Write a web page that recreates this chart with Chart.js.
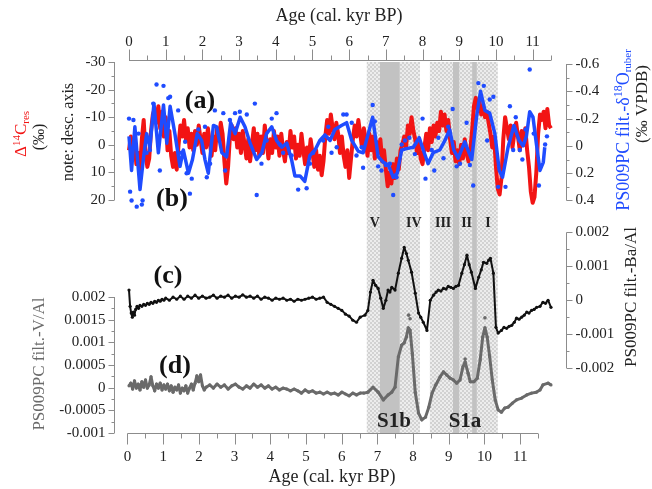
<!DOCTYPE html>
<html>
<head>
<meta charset="utf-8">
<script src="https://cdn.jsdelivr.net/npm/chart.js@4.4.0/dist/chart.umd.min.js"></script>
<style>
  html, body { margin: 0; padding: 0; background: #fff; }
  #wrap { width: 652px; height: 489px; }
</style>
</head>
<body>
<div id="wrap"><canvas id="chart" width="652" height="489"></canvas></div>
<script>
// ---- data: [age (cal. kyr BP), value] ----
const deltaC14 = [
  [0.00,2],[0.05,-3],[0.10,4],[0.15,-1],[0.20,7],[0.25,3],[0.30,9],[0.35,-2],[0.40,-9],[0.45,3],
  [0.50,8],[0.55,5],[0.60,-5],[0.65,-11],[0.70,-13],[0.75,-8],[0.80,-14],[0.85,-6],[0.90,-12],[0.95,-3],
  [1.00,-10],[1.05,2],[1.10,-5],[1.15,4],[1.20,8],[1.25,3],[1.30,9],[1.35,0],[1.40,-7],[1.45,-3],
  [1.50,-9],[1.55,-2],[1.60,-6],[1.65,1],[1.70,-4],[1.75,2],[1.80,-5],[1.85,0],[1.90,-7],[1.95,-2],
  [2.00,3],[2.05,-4],[2.10,1],[2.15,-6],[2.20,-1],[2.25,4],[2.30,-3],[2.35,2],[2.40,-6],[2.45,-2],
  [2.50,-8],[2.55,-4],[2.60,6],[2.65,14],[2.70,8],[2.75,-3],[2.80,-7],[2.85,-2],[2.90,-6],[2.95,1],
  [3.00,-4],[3.05,3],[3.10,-5],[3.15,0],[3.20,5],[3.25,-2],[3.30,6],[3.35,0],[3.40,-6],[3.45,2],
  [3.50,-4],[3.55,4],[3.60,-3],[3.65,3],[3.70,-7],[3.75,-1],[3.80,5],[3.85,-2],[3.90,3],[3.95,-5],
  [4.00,1],[4.05,-3],[4.10,4],[4.15,-4],[4.20,2],[4.25,6],[4.30,-1],[4.35,3],[4.40,-5],[4.45,1],
  [4.50,-3],[4.55,5],[4.60,0],[4.65,4],[4.70,-4],[4.75,2],[4.80,7],[4.85,1],[4.90,5],[4.95,-2],
  [5.00,3],[5.05,8],[5.10,2],[5.15,9],[5.20,4],[5.25,11],[5.30,6],[5.35,-3],[5.40,-9],[5.45,-4],
  [5.50,-11],[5.55,-6],[5.60,-2],[5.65,-8],[5.70,-4],[5.75,3],[5.80,-3],[5.85,4],[5.90,8],[5.95,2],
  [6.00,12],[6.05,5],[6.10,-2],[6.15,-7],[6.20,-3],[6.25,-9],[6.30,-4],[6.35,1],[6.40,-6],[6.45,-2],
  [6.50,4],[6.55,-4],[6.60,2],[6.65,-3],[6.70,5],[6.75,-1],[6.80,3],[6.85,-2],[6.90,6],[6.95,2],
  [7.00,9],[7.05,15],[7.10,10],[7.15,14],[7.20,7],[7.25,12],[7.30,5],[7.35,9],[7.40,2],[7.45,0],
  [7.50,-3],[7.55,1],[7.60,-7],[7.65,-4],[7.70,-10],[7.75,-5],[7.80,-2],[7.85,3],[7.90,-1],[7.95,5],
  [8.00,7],[8.05,1],[8.10,-4],[8.15,2],[8.20,-6],[8.25,-1],[8.30,-7],[8.35,-3],[8.40,-8],[8.45,-5],
  [8.50,-12],[8.55,-7],[8.60,-11],[8.65,-5],[8.70,-9],[8.75,-2],[8.80,3],[8.85,-1],[8.90,6],[8.95,2],
  [9.00,7],[9.05,0],[9.10,5],[9.15,-2],[9.20,3],[9.25,6],[9.30,2],[9.35,-5],[9.40,-14],[9.45,-17],
  [9.50,-13],[9.55,-16],[9.60,-11],[9.65,-14],[9.70,-10],[9.75,-12],[9.80,-8],[9.85,-4],[9.90,1],[9.95,-3],
  [10.00,8],[10.05,16],[10.10,18],[10.15,12],[10.20,-2],[10.25,-10],[10.30,-6],[10.35,-2],[10.40,-7],[10.45,1],
  [10.50,-4],[10.55,-8],[10.60,-3],[10.65,2],[10.70,-5],[10.75,0],[10.80,-6],[10.85,2],[10.90,8],[10.95,17],
  [11.00,21],[11.05,19],[11.10,10],[11.15,-4],[11.20,-11],[11.25,-9],[11.30,-12],[11.35,-6],[11.40,-13],[11.45,-7],
  [11.50,-6]
];

const d18OFilt = [
  [0.00,-0.07],[0.07,0.18],[0.16,-0.14],[0.30,0.32],[0.39,0.10],[0.48,-0.09],[0.57,0.01],[0.68,-0.31],
  [0.80,0.05],[0.94,-0.30],[1.03,-0.02],[1.12,-0.29],[1.25,-0.09],[1.39,0.15],[1.48,0.03],[1.62,0.20],
  [1.73,0.10],[1.86,-0.09],[1.98,-0.04],[2.07,0.10],[2.16,0.20],[2.30,-0.15],[2.39,-0.14],[2.53,0.05],
  [2.66,0.08],[2.77,-0.17],[2.89,-0.09],[3.03,-0.21],[3.16,-0.14],[3.30,-0.02],[3.48,0.10],[3.62,0.05],
  [3.75,-0.09],[3.89,-0.14],[4.02,-0.04],[4.16,0.01],[4.30,-0.02],[4.43,0.10],[4.52,0.22],[4.66,0.22],
  [4.79,0.26],[4.93,0.07],[5.07,0.03],[5.20,-0.04],[5.34,-0.08],[5.48,-0.04],[5.61,-0.12],[5.79,-0.15],
  [5.93,-0.17],[6.07,-0.04],[6.25,0.04],[6.38,0.05],[6.52,-0.09],[6.64,-0.21],[6.79,0.08],[6.93,0.12],
  [7.07,0.14],[7.20,0.23],[7.31,0.20],[7.43,0.03],[7.56,0.02],[7.75,0.01],[7.91,-0.06],[8.02,0.03],
  [8.15,0.13],[8.29,0.05],[8.47,0.03],[8.61,-0.04],[8.74,-0.12],[8.85,0.03],[8.97,0.09],[9.15,-0.03],
  [9.34,0.10],[9.47,-0.21],[9.58,-0.40],[9.70,-0.26],[9.83,-0.24],[9.97,-0.09],[10.09,0.18],[10.18,0.23],
  [10.33,0.01],[10.49,-0.15],[10.63,-0.04],[10.74,0.00],[10.83,-0.07],[10.92,-0.25],[11.01,-0.21],[11.10,-0.02],
  [11.20,0.18],[11.29,0.12],[11.33,0.01]
];

const d18ORaw = [
  [0.00,-0.20],[0.03,0.335],[0.07,0.40],[0.12,-0.19],[0.21,0.445],[0.26,-0.09],[0.35,0.43],[0.37,0.40],
  [0.48,0.05],[0.57,0.03],[0.66,-0.31],[0.75,-0.45],[0.84,0.18],[0.94,-0.44],[1.07,-0.35],[1.12,-0.36],
  [1.34,-0.26],[1.43,0.05],[1.53,-0.03],[1.57,0.20],[1.66,0.35],[1.71,0.24],[1.89,-0.12],[2.07,-0.14],
  [2.12,0.23],[2.21,0.13],[2.34,-0.26],[2.57,-0.24],[2.62,0.18],[2.75,-0.19],[2.89,-0.24],[3.02,-0.25],
  [3.21,-0.23],[3.43,-0.31],[3.48,0.36],[3.61,0.13],[3.75,-0.04],[3.89,-0.20],[4.02,-0.24],[4.11,-0.01],
  [4.20,0.05],[4.43,0.07],[4.61,0.32],[4.84,0.31],[4.93,0.13],[5.02,0.05],[5.29,-0.04],[5.43,-0.14],
  [5.52,0.05],[5.66,0.01],[5.84,-0.23],[5.93,-0.23],[6.07,-0.17],[6.20,0.07],[6.34,0.01],[6.38,0.16],
  [6.64,-0.30],[6.70,-0.18],[6.79,0.15],[6.88,0.18],[7.00,0.14],[7.11,0.13],[7.20,0.36],[7.29,0.23],
  [7.43,-0.01],[7.52,-0.04],[7.64,-0.06],[7.79,0.06],[8.00,-0.20],[8.08,0.24],[8.25,0.03],[8.32,0.18],
  [8.43,-0.06],[8.57,0.09],[8.70,-0.14],[8.82,-0.27],[8.93,0.15],[9.02,0.13],[9.20,-0.17],[9.29,0.14],
  [9.38,0.29],[9.52,-0.46],[9.67,-0.44],[9.76,-0.04],[9.83,-0.34],[9.93,-0.36],[10.06,0.30],[10.26,0.30],
  [10.38,-0.29],[10.47,0.03],[10.54,-0.21],[10.65,0.03],[10.72,0.10],[10.81,-0.12],[10.92,-0.56],[11.03,-0.09],
  [11.17,0.29],[11.34,-0.01],[11.39,-0.07]
];

const baAl = [
  [0.00,0.0003],[0.03,-0.00018],[0.06,-0.00038],[0.09,-0.0005],[0.12,-0.00035],[0.15,-0.00044],[0.18,-0.00027],
  [0.22,-0.00018],[0.26,-0.00024],[0.30,-0.00015],[0.35,-0.00018],[0.40,-0.00012],[0.45,-0.00015],[0.50,-0.00009],
  [0.55,-0.00012],[0.60,-0.00006],[0.65,-0.00009],[0.70,-0.00003],[0.75,-0.00006],[0.80,0],[0.85,-0.00003],
  [0.90,0.00003],[0.95,0],[1.0,0.00006],[1.1,0],[1.2,0.00009],[1.3,0.00003],[1.4,0.00012],[1.5,0.00003],
  [1.6,0.00012],[1.7,0.00006],[1.8,0.00015],[1.9,0.00006],[2.0,0.00012],[2.1,0.00006],[2.2,0.00009],
  [2.3,0.00015],[2.4,0.00006],[2.5,0.00012],[2.6,0.00009],[2.7,0.00015],[2.8,0.00006],[2.9,0.00012],
  [3.0,0.00009],[3.1,0.00016],[3.2,0.00009],[3.3,0.00012],[3.4,0.00006],[3.5,0.00012],[3.6,0.00003],
  [3.7,0.00009],[3.8,0.00006],[3.9,0],[4.0,0.00006],[4.1,0.00003],[4.2,0.00006],[4.3,0],[4.4,0.00003],
  [4.5,-0.00003],[4.6,0.00003],[4.7,0],[4.8,0.00003],[4.9,0.00006],[5.0,0.00009],[5.1,0.00003],[5.2,0.00006],
  [5.3,0.00009],[5.4,-0.00006],[5.5,-0.00012],[5.6,-0.00018],[5.7,-0.00024],[5.8,-0.0003],[5.9,-0.00041],
  [6.0,-0.00047],[6.1,-0.00059],[6.2,-0.00065],[6.3,-0.0005],[6.43,-0.00044],[6.51,-0.0003],[6.58,0.00024],
  [6.65,0.00059],[6.72,0.00044],[6.79,0.00035],[6.86,0.00006],[6.93,-0.00024],[7.0,0],[7.06,0.0003],
  [7.11,0.00024],[7.16,0.00038],[7.25,0.0003],[7.34,0.0008],[7.43,0.00124],[7.5,0.00156],[7.56,0.00138],
  [7.61,0.00118],[7.7,0.00083],[7.8,0.00021],[7.89,-0.00038],[7.95,-0.0005],[8.02,-0.00065],[8.12,-0.00089],
  [8.21,0],[8.3,0.00015],[8.37,0.00024],[8.43,0.0003],[8.5,0.00027],[8.57,0.00035],[8.64,0.00033],
  [8.7,0.00041],[8.77,0.00038],[8.84,0.00035],[8.91,0.00041],[8.98,0.00044],[9.07,0.0008],[9.14,0.00105],
  [9.21,0.00133],[9.27,0.00105],[9.33,0.00083],[9.44,0.00035],[9.53,0.00068],[9.6,0.0009],[9.66,0.00112],
  [9.75,0.00109],[9.8,0.00118],[9.85,0.00124],[9.93,0.0008],[10.0,-0.0008],[10.06,-0.00097],[10.15,-0.00089],
  [10.22,-0.0008],[10.29,-0.00083],[10.36,-0.00077],[10.43,-0.00074],[10.5,-0.00065],[10.56,-0.00053],
  [10.63,-0.00056],[10.7,-0.0005],[10.77,-0.00044],[10.84,-0.00035],[10.9,-0.00038],[10.97,-0.0003],
  [11.04,-0.00027],[11.11,-0.00021],[11.2,-0.00018],[11.28,-0.00006],[11.35,-0.00009],[11.42,0],[11.5,-0.00021]
];

const vAl = [
  [0.00,0.00004],[0.05,0.0001],[0.10,-0.00003],[0.15,0.00015],[0.20,-0.00001],[0.25,0.00008],[0.30,-0.00005],
  [0.35,0.00013],[0.40,0.00001],[0.45,0.00017],[0.50,-0.00001],[0.55,0.00006],[0.60,0.00024],[0.65,0.00004],
  [0.70,-0.00007],[0.75,0.00008],[0.80,-0.00001],[0.85,0.0001],[0.90,-0.00005],[0.95,0.00006],[1.00,-0.00003],
  [1.05,0.00008],[1.10,-0.00007],[1.15,0.00004],[1.20,-0.0001],[1.25,0.00001],[1.30,-0.00005],[1.35,0.00006],
  [1.40,-0.00012],[1.45,-0.00001],[1.50,-0.00007],[1.55,0.00004],[1.60,-0.00012],[1.65,-0.00001],[1.70,0.00008],
  [1.75,-0.00005],[1.80,0.0001],[1.85,0.00026],[1.90,0.00013],[1.95,0.00028],[2.00,0.00004],[2.05,-0.00005],
  [2.10,0.00001],[2.20,0.00006],[2.30,-0.00001],[2.40,0.00008],[2.50,0.00001],[2.60,0.00006],[2.70,-0.00003],
  [2.80,0.00004],[2.90,0.00008],[3.00,0.00001],[3.10,-0.00003],[3.20,0.00004],[3.30,-0.00001],[3.40,0.00008],
  [3.50,0.00001],[3.60,0.00006],[3.70,-0.00001],[3.80,0.00004],[3.90,-0.00003],[4.00,0.00001],[4.10,-0.00005],
  [4.20,-0.00001],[4.30,-0.00003],[4.40,-0.00007],[4.50,-0.00003],[4.60,-0.00007],[4.70,-0.00012],[4.80,-0.00005],
  [4.90,-0.0001],[5.00,-0.00007],[5.10,-0.00012],[5.20,-0.0001],[5.30,-0.00014],[5.40,-0.0001],[5.50,-0.00014],
  [5.60,-0.00012],[5.70,-0.00016],[5.80,-0.0001],[5.90,-0.00014],[6.00,-0.00018],[6.10,-0.00012],[6.20,-0.00016],
  [6.30,-0.00012],[6.40,-0.00012],[6.51,-0.0001],[6.65,0.00001],[6.79,-0.0001],[6.93,-0.00027],[7.06,-0.00016],
  [7.16,-0.0001],[7.25,0.00001],[7.34,0.00068],[7.43,0.00094],[7.5,0.00099],[7.56,0.00112],[7.61,0.00132],
  [7.66,0.00127],[7.72,0.00076],[7.8,-0.0001],[7.89,-0.00056],[7.98,-0.00071],[8.08,-0.00065],[8.17,-0.00043],
  [8.26,-0.00012],[8.36,0.00006],[8.48,0.00024],[8.57,0.00035],[8.66,0.00028],[8.75,0.00021],[8.84,0.00017],
  [8.93,0.0001],[9.02,0.00017],[9.1,0.00046],[9.16,0.00057],[9.24,0.00032],[9.3,0.00013],[9.4,0.00013],
  [9.49,0.00021],[9.57,0.00061],[9.64,0.00112],[9.7,0.00132],[9.76,0.00112],[9.83,0.00068],[9.9,0.00017],
  [9.98,-0.00027],[10.06,-0.00049],[10.15,-0.00054],[10.24,-0.00045],[10.33,-0.00043],[10.45,-0.00034],
  [10.56,-0.00027],[10.7,-0.00023],[10.84,-0.00016],[10.97,-0.00012],[11.1,-0.0001],[11.2,-0.00005],
  [11.28,0.00006],[11.42,0.0001],[11.5,0.00006]
];
const vAlOutliers = [[7.62,0.0016],[7.66,0.00152],[9.16,0.00063],[9.7,0.00154]];

// sapropel S1 sub-intervals (age)
const bandsLight = [[6.48,6.84],[7.38,7.93],[8.2,8.83],[9.0,9.35],[9.48,10.05]];
const bandsDark = [[6.84,7.38],[8.83,9.0],[9.35,9.48]];
const events = [['V',6.7],['IV',7.76],['III',8.56],['II',9.2],['I',9.78]];

// ---- ticks ----
const ageTicks = [0,1,2,3,4,5,6,7,8,9,10,11];
const ageMinor = [0.5,1.5,2.5,3.5,4.5,5.5,6.5,7.5,8.5,9.5,10.5,11.5];
const c14Ticks = [-30,-20,-10,0,10,20];
const c14Labels = ['-30','-20','-10','0','10','20'];
const c14Minor = [-25,-15,-5,5,15];
const o18Ticks = [-0.6,-0.4,-0.2,0,0.2,0.4];
const o18Labels = ['-0.6','-0.4','-0.2','0','0.2','0.4'];
const o18Minor = [-0.5,-0.3,-0.1,0.1,0.3];
const baTicks = [0.002,0.001,0,-0.001,-0.002];
const baLabels = ['0.002','0.001','0','-0.001','-0.002'];
const baMinor = [0.0015,0.0005,-0.0005,-0.0015];
const vTicks = [0.002,0.0015,0.001,0.0005,0,-0.0005,-0.001];
const vLabels = ['0.002','0.0015','0.001','0.0005','0','-0.0005','-0.001'];
const vMinor = [0.00175,0.00125,0.00075,0.00025,-0.00025,-0.00075];

const RED = '#f21414';
const BLUE = '#1f4cff';
const GREY = '#6a6a6a';
const AXIS = '#8c8c8c';
const SERIF = '"Liberation Serif", "Times New Roman", serif';

const pts = arr => arr.map(([x, y]) => ({x, y}));

function richText(ctx, cx, cy, parts) {
  ctx.save();
  ctx.translate(cx, cy);
  ctx.rotate(-Math.PI / 2);
  let total = 0;
  parts.forEach(p => { ctx.font = p.font; p.w = ctx.measureText(p.t).width; total += p.w; });
  let x = -total / 2;
  ctx.textAlign = 'left';
  ctx.textBaseline = 'middle';
  parts.forEach(p => {
    ctx.font = p.font;
    ctx.fillStyle = p.color;
    ctx.fillText(p.t, x, p.dy || 0);
    x += p.w;
  });
  ctx.restore();
}

function makePattern(ctx) {
  const c = document.createElement('canvas');
  c.width = 4; c.height = 4;
  const g = c.getContext('2d');
  g.fillStyle = '#ededed';
  g.fillRect(0, 0, 4, 4);
  g.fillStyle = '#d2d2d2';
  g.fillRect(0, 0, 2, 2);
  g.fillRect(2, 2, 2, 2);
  return ctx.createPattern(c, 'repeat');
}

function yAxis(ctx, scale, x, dir, lo, hi, ticks, labels, minor) {
  const px = Math.round(x) + 0.5;
  ctx.strokeStyle = AXIS;
  ctx.lineWidth = 1;
  ctx.beginPath();
  ctx.moveTo(px, scale.getPixelForValue(lo));
  ctx.lineTo(px, scale.getPixelForValue(hi));
  ticks.forEach(v => {
    const y = Math.round(scale.getPixelForValue(v)) + 0.5;
    ctx.moveTo(px, y); ctx.lineTo(px + dir * 6, y);
  });
  minor.forEach(v => {
    const y = Math.round(scale.getPixelForValue(v)) + 0.5;
    ctx.moveTo(px, y); ctx.lineTo(px + dir * 3, y);
  });
  ctx.stroke();
  ctx.fillStyle = '#222';
  ctx.font = '15px ' + SERIF;
  ctx.textAlign = dir < 0 ? 'right' : 'left';
  ctx.textBaseline = 'middle';
  ticks.forEach((v, i) => ctx.fillText(labels[i], px + dir * 9, scale.getPixelForValue(v)));
}

function xAxis(ctx, scale, y, dir, labelY) {
  const py = Math.round(y) + 0.5;
  ctx.strokeStyle = AXIS;
  ctx.lineWidth = 1;
  ctx.beginPath();
  ctx.moveTo(scale.getPixelForValue(0), py);
  ctx.lineTo(scale.getPixelForValue(11.5), py);
  ageTicks.forEach(v => {
    const x = Math.round(scale.getPixelForValue(v)) + 0.5;
    ctx.moveTo(x, py); ctx.lineTo(x, py + dir * 11);
  });
  ageMinor.forEach(v => {
    const x = Math.round(scale.getPixelForValue(v)) + 0.5;
    ctx.moveTo(x, py); ctx.lineTo(x, py + dir * 5);
  });
  ctx.stroke();
  ctx.fillStyle = '#222';
  ctx.font = '15px ' + SERIF;
  ctx.textAlign = 'center';
  ctx.textBaseline = 'middle';
  ageTicks.forEach(v => ctx.fillText(String(v), scale.getPixelForValue(v), labelY));
}

const paleoPlugin = {
  id: 'paleo',
  beforeDraw(chart) {
    const ctx = chart.ctx;
    ctx.save();
    ctx.fillStyle = '#fff';
    ctx.fillRect(0, 0, chart.width, chart.height);
    ctx.restore();
  },
  beforeDatasetsDraw(chart) {
    const {ctx, chartArea, scales} = chart;
    const top = chartArea.top + 2, bottom = chartArea.bottom;
    ctx.save();
    ctx.fillStyle = makePattern(ctx);
    bandsLight.forEach(([a, b]) => {
      const x0 = scales.x.getPixelForValue(a), x1 = scales.x.getPixelForValue(b);
      ctx.fillRect(x0, top, x1 - x0, bottom - top);
    });
    ctx.fillStyle = '#c2c2c2';
    bandsDark.forEach(([a, b]) => {
      const x0 = scales.x.getPixelForValue(a), x1 = scales.x.getPixelForValue(b);
      ctx.fillRect(x0, top, x1 - x0, bottom - top);
    });
    ctx.restore();
  },
  afterDatasetsDraw(chart) {
    const {ctx, chartArea, scales} = chart;
    ctx.save();
    xAxis(ctx, scales.x, chartArea.top, -1, 42);
    xAxis(ctx, scales.xb, chartArea.bottom, 1, 457);
    yAxis(ctx, scales.yA, chartArea.left, -1, -30, 20, c14Ticks, c14Labels, c14Minor);
    yAxis(ctx, scales.yD, chartArea.left, -1, 0.002, -0.001, vTicks, vLabels, vMinor);
    yAxis(ctx, scales.yB, chartArea.right, 1, -0.6, 0.4, o18Ticks, o18Labels, o18Minor);
    yAxis(ctx, scales.yC, chartArea.right, 1, 0.002, -0.002, baTicks, baLabels, baMinor);

    // axis titles
    ctx.fillStyle = '#222';
    ctx.font = '18px ' + SERIF;
    ctx.textAlign = 'center';
    ctx.textBaseline = 'middle';
    ctx.fillText('Age (cal. kyr BP)', 339, 16);
    ctx.fillText('Age (cal. kyr BP)', 332, 477);

    const f = s => s + 'px ' + SERIF;
    richText(ctx, 22, 134, [
      {t: 'Δ', font: f(17), color: RED},
      {t: '14', font: f(11), color: RED, dy: -5},
      {t: 'C', font: f(17), color: RED},
      {t: 'res', font: f(11), color: RED, dy: 4}
    ]);
    richText(ctx, 40, 137, [{t: '(‰)', font: f(16), color: '#222'}]);
    richText(ctx, 69, 132, [{t: 'note: desc. axis', font: f(16), color: '#222'}]);
    richText(ctx, 40, 364, [{t: 'PS009PC filt.-V/Al', font: f(17), color: GREY}]);
    richText(ctx, 624, 130, [
      {t: 'PS009PC filt.-δ', font: f(18), color: BLUE},
      {t: '18', font: f(12), color: BLUE, dy: -5},
      {t: 'O', font: f(18), color: BLUE},
      {t: 'ruber', font: f(11), color: BLUE, dy: 4}
    ]);
    richText(ctx, 643, 104, [{t: '(‰ VPDB)', font: f(17), color: '#222'}]);
    richText(ctx, 632, 297, [{t: 'PS009PC filt.-Ba/Al', font: f(17), color: '#222'}]);

    // panel letters
    ctx.fillStyle = '#111';
    ctx.font = 'bold 26px ' + SERIF;
    ctx.textAlign = 'center';
    ctx.fillText('(a)', 200, 101);
    ctx.fillText('(b)', 172, 199);
    ctx.fillText('(c)', 168, 276);
    ctx.fillText('(d)', 175, 366);

    ctx.fillStyle = '#222';
    ctx.font = 'bold 14px ' + SERIF;
    events.forEach(([t, age]) => ctx.fillText(t, scales.x.getPixelForValue(age), 223));
    ctx.font = 'bold 21px ' + SERIF;
    ctx.fillText('S1b', 394, 422);
    ctx.fillText('S1a', 465, 422);
    ctx.restore();
  }
};

new Chart(document.getElementById('chart'), {
  type: 'line',
  data: {
    datasets: [
      {label: 'd18O raw', data: pts(d18ORaw), yAxisID: 'yB', showLine: false,
       pointRadius: 2.2, pointBackgroundColor: BLUE, pointBorderWidth: 0, order: 0},
      {label: 'd18O filt', data: pts(d18OFilt), yAxisID: 'yB', borderColor: BLUE,
       borderWidth: 3.5, pointRadius: 0, order: 1},
      {label: 'D14C res', data: pts(deltaC14), yAxisID: 'yA', borderColor: RED,
       borderWidth: 4, pointRadius: 0, order: 2},
      {label: 'Ba/Al', data: pts(baAl), yAxisID: 'yC', borderColor: '#111', borderWidth: 2,
       pointRadius: 1.6, pointBackgroundColor: '#111', pointBorderWidth: 0, order: 3},
      {label: 'V/Al', data: pts(vAl), yAxisID: 'yD', borderColor: GREY, borderWidth: 3,
       pointRadius: 1.6, pointBackgroundColor: GREY, pointBorderWidth: 0, order: 3},
      {label: 'V/Al raw', data: pts(vAlOutliers), yAxisID: 'yD', showLine: false,
       pointRadius: 1.8, pointBackgroundColor: GREY, pointBorderWidth: 0, order: 3}
    ]
  },
  options: {
    responsive: false,
    animation: false,
    events: [],
    layout: {padding: {left: 114, right: 86, top: 60, bottom: 56}, autoPadding: false},
    plugins: {legend: {display: false}, tooltip: {enabled: false}},
    elements: {line: {tension: 0, borderJoinStyle: 'round'}},
    scales: {
      x: {type: 'linear', position: 'bottom', min: -0.409, max: 11.909, display: false},
      xb: {type: 'linear', position: 'bottom', min: -0.378, max: 12.284, display: false},
      yA: {type: 'linear', position: 'left', reverse: true, min: -30.725, max: 104.42, display: false},
      yB: {type: 'linear', position: 'right', reverse: true, min: -0.6293, max: 2.1033, display: false},
      yC: {type: 'linear', position: 'right', min: -0.003919, max: 0.007092, display: false},
      yD: {type: 'linear', position: 'left', min: -0.001, max: 0.007228, display: false}
    }
  },
  plugins: [paleoPlugin]
});
</script>
</body>
</html>
